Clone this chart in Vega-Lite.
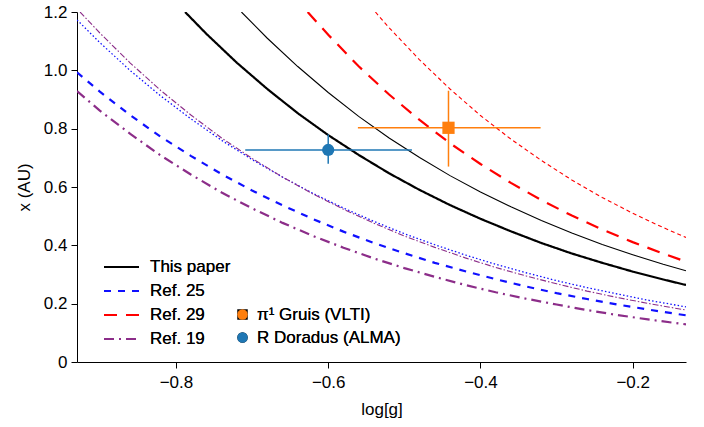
{
  "$schema": "https://vega.github.io/schema/vega-lite/v6.json",
  "width": 609,
  "height": 350,
  "autosize": "none",
  "padding": {"left": 77, "top": 12, "right": 18, "bottom": 65},
  "config": {
    "font": "Liberation Sans",
    "view": {"stroke": null},
    "axis": {"grid": false, "domainColor": "black", "tickColor": "black", "labelColor": "black", "titleColor": "black", "labelFontSize": 17, "titleFontSize": 17, "titleFontWeight": "normal", "tickSize": 6, "labelPadding": 4, "domainWidth": 1, "tickWidth": 1},
    "legend": {"labelFontSize": 17, "labelColor": "black", "labelFontWeight": "normal", "padding": 0}
  },
  "datasets": {
    "curves": [
      {"curve": "This paper", "v": "thick", "logg": -0.788, "x": 1.2},
      {"curve": "This paper", "v": "thick", "logg": -0.76, "x": 1.125},
      {"curve": "This paper", "v": "thick", "logg": -0.72, "x": 1.026},
      {"curve": "This paper", "v": "thick", "logg": -0.68, "x": 0.936},
      {"curve": "This paper", "v": "thick", "logg": -0.64, "x": 0.853},
      {"curve": "This paper", "v": "thick", "logg": -0.6, "x": 0.778},
      {"curve": "This paper", "v": "thick", "logg": -0.56, "x": 0.71},
      {"curve": "This paper", "v": "thick", "logg": -0.52, "x": 0.647},
      {"curve": "This paper", "v": "thick", "logg": -0.48, "x": 0.59},
      {"curve": "This paper", "v": "thick", "logg": -0.44, "x": 0.538},
      {"curve": "This paper", "v": "thick", "logg": -0.4, "x": 0.491},
      {"curve": "This paper", "v": "thick", "logg": -0.36, "x": 0.448},
      {"curve": "This paper", "v": "thick", "logg": -0.32, "x": 0.408},
      {"curve": "This paper", "v": "thick", "logg": -0.28, "x": 0.372},
      {"curve": "This paper", "v": "thick", "logg": -0.24, "x": 0.34},
      {"curve": "This paper", "v": "thick", "logg": -0.2, "x": 0.31},
      {"curve": "This paper", "v": "thick", "logg": -0.16, "x": 0.283},
      {"curve": "This paper", "v": "thick", "logg": -0.13, "x": 0.264},

      {"curve": "This paper", "v": "thin", "logg": -0.714, "x": 1.2},
      {"curve": "This paper", "v": "thin", "logg": -0.68, "x": 1.11},
      {"curve": "This paper", "v": "thin", "logg": -0.64, "x": 1.013},
      {"curve": "This paper", "v": "thin", "logg": -0.6, "x": 0.924},
      {"curve": "This paper", "v": "thin", "logg": -0.56, "x": 0.842},
      {"curve": "This paper", "v": "thin", "logg": -0.52, "x": 0.768},
      {"curve": "This paper", "v": "thin", "logg": -0.48, "x": 0.701},
      {"curve": "This paper", "v": "thin", "logg": -0.44, "x": 0.639},
      {"curve": "This paper", "v": "thin", "logg": -0.4, "x": 0.583},
      {"curve": "This paper", "v": "thin", "logg": -0.36, "x": 0.532},
      {"curve": "This paper", "v": "thin", "logg": -0.32, "x": 0.485},
      {"curve": "This paper", "v": "thin", "logg": -0.28, "x": 0.442},
      {"curve": "This paper", "v": "thin", "logg": -0.24, "x": 0.403},
      {"curve": "This paper", "v": "thin", "logg": -0.2, "x": 0.368},
      {"curve": "This paper", "v": "thin", "logg": -0.16, "x": 0.335},
      {"curve": "This paper", "v": "thin", "logg": -0.13, "x": 0.313},

      {"curve": "Ref. 29", "v": "thick", "logg": -0.627, "x": 1.2},
      {"curve": "Ref. 29", "v": "thick", "logg": -0.6, "x": 1.122},
      {"curve": "Ref. 29", "v": "thick", "logg": -0.56, "x": 1.014},
      {"curve": "Ref. 29", "v": "thick", "logg": -0.52, "x": 0.917},
      {"curve": "Ref. 29", "v": "thick", "logg": -0.48, "x": 0.83},
      {"curve": "Ref. 29", "v": "thick", "logg": -0.44, "x": 0.75},
      {"curve": "Ref. 29", "v": "thick", "logg": -0.4, "x": 0.679},
      {"curve": "Ref. 29", "v": "thick", "logg": -0.36, "x": 0.614},
      {"curve": "Ref. 29", "v": "thick", "logg": -0.32, "x": 0.555},
      {"curve": "Ref. 29", "v": "thick", "logg": -0.28, "x": 0.502},
      {"curve": "Ref. 29", "v": "thick", "logg": -0.24, "x": 0.454},
      {"curve": "Ref. 29", "v": "thick", "logg": -0.2, "x": 0.411},
      {"curve": "Ref. 29", "v": "thick", "logg": -0.16, "x": 0.372},
      {"curve": "Ref. 29", "v": "thick", "logg": -0.13, "x": 0.344},

      {"curve": "Ref. 29", "v": "thin", "logg": -0.538, "x": 1.2},
      {"curve": "Ref. 29", "v": "thin", "logg": -0.52, "x": 1.146},
      {"curve": "Ref. 29", "v": "thin", "logg": -0.48, "x": 1.036},
      {"curve": "Ref. 29", "v": "thin", "logg": -0.44, "x": 0.936},
      {"curve": "Ref. 29", "v": "thin", "logg": -0.4, "x": 0.845},
      {"curve": "Ref. 29", "v": "thin", "logg": -0.36, "x": 0.764},
      {"curve": "Ref. 29", "v": "thin", "logg": -0.32, "x": 0.691},
      {"curve": "Ref. 29", "v": "thin", "logg": -0.28, "x": 0.624},
      {"curve": "Ref. 29", "v": "thin", "logg": -0.24, "x": 0.564},
      {"curve": "Ref. 29", "v": "thin", "logg": -0.2, "x": 0.51},
      {"curve": "Ref. 29", "v": "thin", "logg": -0.16, "x": 0.461},
      {"curve": "Ref. 29", "v": "thin", "logg": -0.13, "x": 0.427},

      {"curve": "Ref. 25", "v": "thin", "logg": -0.93, "x": 1.173},
      {"curve": "Ref. 25", "v": "thin", "logg": -0.9, "x": 1.095},
      {"curve": "Ref. 25", "v": "thin", "logg": -0.86, "x": 0.999},
      {"curve": "Ref. 25", "v": "thin", "logg": -0.82, "x": 0.912},
      {"curve": "Ref. 25", "v": "thin", "logg": -0.78, "x": 0.833},
      {"curve": "Ref. 25", "v": "thin", "logg": -0.74, "x": 0.76},
      {"curve": "Ref. 25", "v": "thin", "logg": -0.7, "x": 0.694},
      {"curve": "Ref. 25", "v": "thin", "logg": -0.66, "x": 0.634},
      {"curve": "Ref. 25", "v": "thin", "logg": -0.62, "x": 0.578},
      {"curve": "Ref. 25", "v": "thin", "logg": -0.58, "x": 0.528},
      {"curve": "Ref. 25", "v": "thin", "logg": -0.54, "x": 0.482},
      {"curve": "Ref. 25", "v": "thin", "logg": -0.5, "x": 0.44},
      {"curve": "Ref. 25", "v": "thin", "logg": -0.46, "x": 0.402},
      {"curve": "Ref. 25", "v": "thin", "logg": -0.42, "x": 0.367},
      {"curve": "Ref. 25", "v": "thin", "logg": -0.38, "x": 0.335},
      {"curve": "Ref. 25", "v": "thin", "logg": -0.34, "x": 0.306},
      {"curve": "Ref. 25", "v": "thin", "logg": -0.3, "x": 0.279},
      {"curve": "Ref. 25", "v": "thin", "logg": -0.26, "x": 0.255},
      {"curve": "Ref. 25", "v": "thin", "logg": -0.22, "x": 0.233},
      {"curve": "Ref. 25", "v": "thin", "logg": -0.18, "x": 0.212},
      {"curve": "Ref. 25", "v": "thin", "logg": -0.13, "x": 0.189},

      {"curve": "Ref. 19", "v": "thin", "logg": -0.926, "x": 1.2},
      {"curve": "Ref. 19", "v": "thin", "logg": -0.9, "x": 1.128},
      {"curve": "Ref. 19", "v": "thin", "logg": -0.86, "x": 1.025},
      {"curve": "Ref. 19", "v": "thin", "logg": -0.82, "x": 0.931},
      {"curve": "Ref. 19", "v": "thin", "logg": -0.78, "x": 0.846},
      {"curve": "Ref. 19", "v": "thin", "logg": -0.74, "x": 0.768},
      {"curve": "Ref. 19", "v": "thin", "logg": -0.7, "x": 0.698},
      {"curve": "Ref. 19", "v": "thin", "logg": -0.66, "x": 0.634},
      {"curve": "Ref. 19", "v": "thin", "logg": -0.62, "x": 0.576},
      {"curve": "Ref. 19", "v": "thin", "logg": -0.58, "x": 0.524},
      {"curve": "Ref. 19", "v": "thin", "logg": -0.54, "x": 0.476},
      {"curve": "Ref. 19", "v": "thin", "logg": -0.5, "x": 0.432},
      {"curve": "Ref. 19", "v": "thin", "logg": -0.46, "x": 0.393},
      {"curve": "Ref. 19", "v": "thin", "logg": -0.42, "x": 0.357},
      {"curve": "Ref. 19", "v": "thin", "logg": -0.38, "x": 0.324},
      {"curve": "Ref. 19", "v": "thin", "logg": -0.34, "x": 0.295},
      {"curve": "Ref. 19", "v": "thin", "logg": -0.3, "x": 0.268},
      {"curve": "Ref. 19", "v": "thin", "logg": -0.26, "x": 0.243},
      {"curve": "Ref. 19", "v": "thin", "logg": -0.22, "x": 0.221},
      {"curve": "Ref. 19", "v": "thin", "logg": -0.18, "x": 0.201},
      {"curve": "Ref. 19", "v": "thin", "logg": -0.13, "x": 0.178},

      {"curve": "Ref. 25", "v": "thick", "logg": -0.93, "x": 0.993},
      {"curve": "Ref. 25", "v": "thick", "logg": -0.9, "x": 0.927},
      {"curve": "Ref. 25", "v": "thick", "logg": -0.86, "x": 0.846},
      {"curve": "Ref. 25", "v": "thick", "logg": -0.82, "x": 0.772},
      {"curve": "Ref. 25", "v": "thick", "logg": -0.78, "x": 0.706},
      {"curve": "Ref. 25", "v": "thick", "logg": -0.74, "x": 0.644},
      {"curve": "Ref. 25", "v": "thick", "logg": -0.7, "x": 0.588},
      {"curve": "Ref. 25", "v": "thick", "logg": -0.66, "x": 0.537},
      {"curve": "Ref. 25", "v": "thick", "logg": -0.62, "x": 0.49},
      {"curve": "Ref. 25", "v": "thick", "logg": -0.58, "x": 0.447},
      {"curve": "Ref. 25", "v": "thick", "logg": -0.54, "x": 0.408},
      {"curve": "Ref. 25", "v": "thick", "logg": -0.5, "x": 0.373},
      {"curve": "Ref. 25", "v": "thick", "logg": -0.46, "x": 0.34},
      {"curve": "Ref. 25", "v": "thick", "logg": -0.42, "x": 0.311},
      {"curve": "Ref. 25", "v": "thick", "logg": -0.38, "x": 0.284},
      {"curve": "Ref. 25", "v": "thick", "logg": -0.34, "x": 0.259},
      {"curve": "Ref. 25", "v": "thick", "logg": -0.3, "x": 0.236},
      {"curve": "Ref. 25", "v": "thick", "logg": -0.26, "x": 0.216},
      {"curve": "Ref. 25", "v": "thick", "logg": -0.22, "x": 0.197},
      {"curve": "Ref. 25", "v": "thick", "logg": -0.18, "x": 0.18},
      {"curve": "Ref. 25", "v": "thick", "logg": -0.13, "x": 0.16},

      {"curve": "Ref. 19", "v": "thick", "logg": -0.93, "x": 0.929},
      {"curve": "Ref. 19", "v": "thick", "logg": -0.9, "x": 0.862},
      {"curve": "Ref. 19", "v": "thick", "logg": -0.86, "x": 0.782},
      {"curve": "Ref. 19", "v": "thick", "logg": -0.82, "x": 0.708},
      {"curve": "Ref. 19", "v": "thick", "logg": -0.78, "x": 0.642},
      {"curve": "Ref. 19", "v": "thick", "logg": -0.74, "x": 0.581},
      {"curve": "Ref. 19", "v": "thick", "logg": -0.7, "x": 0.527},
      {"curve": "Ref. 19", "v": "thick", "logg": -0.66, "x": 0.477},
      {"curve": "Ref. 19", "v": "thick", "logg": -0.62, "x": 0.432},
      {"curve": "Ref. 19", "v": "thick", "logg": -0.58, "x": 0.392},
      {"curve": "Ref. 19", "v": "thick", "logg": -0.54, "x": 0.355},
      {"curve": "Ref. 19", "v": "thick", "logg": -0.5, "x": 0.322},
      {"curve": "Ref. 19", "v": "thick", "logg": -0.46, "x": 0.292},
      {"curve": "Ref. 19", "v": "thick", "logg": -0.42, "x": 0.264},
      {"curve": "Ref. 19", "v": "thick", "logg": -0.38, "x": 0.239},
      {"curve": "Ref. 19", "v": "thick", "logg": -0.34, "x": 0.217},
      {"curve": "Ref. 19", "v": "thick", "logg": -0.3, "x": 0.197},
      {"curve": "Ref. 19", "v": "thick", "logg": -0.26, "x": 0.178},
      {"curve": "Ref. 19", "v": "thick", "logg": -0.22, "x": 0.161},
      {"curve": "Ref. 19", "v": "thick", "logg": -0.18, "x": 0.146},
      {"curve": "Ref. 19", "v": "thick", "logg": -0.13, "x": 0.129}
    ],
    "stars": [
      {"star": "π¹ Gruis (VLTI)", "logg": -0.442, "x": 0.803, "logg_lo": -0.561, "logg_hi": -0.321, "x_lo": 0.67, "x_hi": 0.93},
      {"star": "R Doradus (ALMA)", "logg": -0.6, "x": 0.727, "logg_lo": -0.709, "logg_hi": -0.49, "x_lo": 0.68, "x_hi": 0.78}
    ]
  },
  "encoding": {
    "x": {"field": "logg", "type": "quantitative", "scale": {"domain": [-0.93, -0.13], "nice": false, "zero": false},
      "axis": {"title": "log[g]", "values": [-0.8, -0.6, -0.4, -0.2], "format": ".1f", "labelPadding": 6, "titlePadding": 11}},
    "y": {"field": "x", "type": "quantitative", "scale": {"domain": [0, 1.2], "nice": false},
      "axis": {"title": "x (AU)", "values": [0, 0.2, 0.4, 0.6, 0.8, 1.0, 1.2], "labelExpr": "datum.value == 0 ? '0' : format(datum.value, '.1f')", "titlePadding": 10}}
  },
  "layer": [
    {
      "data": {"name": "curves"},
      "transform": [{"filter": "datum.v == 'thin' && datum.curve == 'This paper'"}],
      "mark": {"type": "line", "color": "black", "strokeWidth": 1.1, "clip": true},
      "encoding": {}
    },
    {
      "data": {"name": "curves"},
      "transform": [{"filter": "datum.v == 'thin' && datum.curve == 'Ref. 25'"}],
      "mark": {"type": "line", "color": "#1010ff", "strokeWidth": 1.3, "strokeDash": [1.5, 2.2], "clip": true},
      "encoding": {}
    },
    {
      "data": {"name": "curves"},
      "transform": [{"filter": "datum.v == 'thin' && datum.curve == 'Ref. 29'"}],
      "mark": {"type": "line", "color": "#ff0000", "strokeWidth": 1.1, "strokeDash": [4, 3], "clip": true},
      "encoding": {}
    },
    {
      "data": {"name": "curves"},
      "transform": [{"filter": "datum.v == 'thin' && datum.curve == 'Ref. 19'"}],
      "mark": {"type": "line", "color": "#8c2d89", "strokeWidth": 1.1, "strokeDash": [6, 2, 1.5, 2], "clip": true},
      "encoding": {}
    },
    {
      "data": {"name": "curves"},
      "transform": [{"filter": "datum.v == 'thick'"}],
      "mark": {"type": "line", "strokeWidth": 2.2, "clip": true},
      "encoding": {
        "detail": {"field": "curve"},
        "color": {"field": "curve", "type": "nominal",
          "scale": {"domain": ["This paper", "Ref. 25", "Ref. 29", "Ref. 19"], "range": ["black", "#1010ff", "#ff0000", "#8c2d89"]},
          "legend": {"title": null, "orient": "none", "legendX": 33.5, "legendY": 244, "symbolType": "M-1.75,0H1.75", "symbolSize": 400, "symbolStrokeWidth": 2, "labelOffset": 17.5, "rowPadding": 5,
            "encode": {"symbols": {"update": {"strokeDash": {"scale": "strokeDash", "field": "value"}}}}}},
        "strokeDash": {"field": "curve", "type": "nominal",
          "scale": {"domain": ["This paper", "Ref. 25", "Ref. 29", "Ref. 19"], "range": [[1, 0], [7, 7], [13, 9], [10, 5, 2, 5]]},
          "legend": {"title": null, "orient": "none", "legendX": 33.5, "legendY": 244, "symbolType": "M-1.75,0H1.75", "symbolSize": 400, "symbolStrokeWidth": 2, "labelOffset": 17.5, "rowPadding": 5,
            "encode": {"symbols": {"update": {"strokeDash": {"scale": "strokeDash", "field": "value"}}}}}}
      }
    },
    {
      "data": {"name": "stars"},
      "mark": {"type": "rule", "strokeWidth": 1.5},
      "encoding": {
        "x": {"field": "logg_lo", "type": "quantitative"},
        "x2": {"field": "logg_hi"},
        "color": {"field": "star", "type": "nominal", "scale": {"domain": ["π¹ Gruis (VLTI)", "R Doradus (ALMA)"], "range": ["#ff7f0e", "#1f77b4"]}, "legend": null}
      }
    },
    {
      "data": {"name": "stars"},
      "mark": {"type": "rule", "strokeWidth": 1.5},
      "encoding": {
        "y": {"field": "x_lo", "type": "quantitative"},
        "y2": {"field": "x_hi"},
        "color": {"field": "star", "type": "nominal", "scale": {"domain": ["π¹ Gruis (VLTI)", "R Doradus (ALMA)"], "range": ["#ff7f0e", "#1f77b4"]}, "legend": null}
      }
    },
    {
      "data": {"name": "stars"},
      "mark": {"type": "point", "filled": true, "opacity": 1, "size": 150, "strokeWidth": 0},
      "encoding": {
        "color": {"field": "star", "type": "nominal", "scale": {"domain": ["π¹ Gruis (VLTI)", "R Doradus (ALMA)"], "range": ["#ff7f0e", "#1f77b4"]},
          "legend": {"title": null, "orient": "none", "legendX": 157, "legendY": 294, "symbolSize": 110, "symbolStrokeWidth": 0, "labelOffset": 6, "rowPadding": 5}},
        "shape": {"field": "star", "type": "nominal", "scale": {"domain": ["π¹ Gruis (VLTI)", "R Doradus (ALMA)"], "range": ["square", "circle"]},
          "legend": {"title": null, "orient": "none", "legendX": 157, "legendY": 294, "symbolSize": 110, "symbolStrokeWidth": 0, "labelOffset": 6, "rowPadding": 5}}
      }
    }
  ],
  "resolve": {"scale": {"color": "independent"}}
}
